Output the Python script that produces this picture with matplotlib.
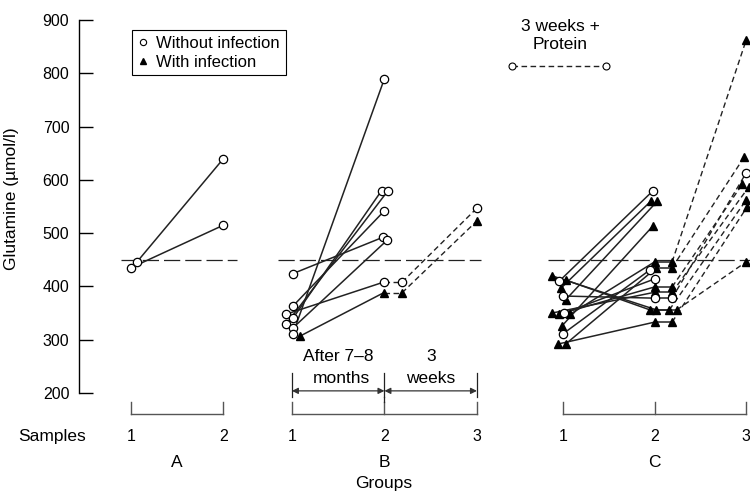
import matplotlib
matplotlib.use('Agg')
import matplotlib.pyplot as plt
import numpy as np
from matplotlib.lines import Line2D

plt.rcParams['font.family'] = ['Liberation Sans', 'DejaVu Sans']

nan = np.nan

# data (glutamine, umol/l); one entry per patient
# group A: samples 1 and 2
a_s1 = [435, 445]
a_s2 = [515, 640]
a_inf = [0, 0]

# group B: sample 1, sample 2 (7-8 months), repeat of 2, sample 3 (3 weeks + protein)
b_s1 = [424, 363, 348, 340, 330, 322, 311, 307]
b_s2 = [492, 542, 408, 580, 580, 487, 790, 388]
b_rep = [nan, nan, 408, nan, nan, nan, nan, 388]
b_s3 = [nan, nan, 547, nan, nan, nan, nan, 523]
b_inf = [0, 0, 0, 0, 0, 0, 0, 1]

# group C
c_s1 = [420, 412, 397, 375, 350, 348, 348, 326, 292, 292, 410, 382, 350, 311]
c_s2 = [356, 356, 560, 560, 389, 399, 446, 513, 333, 435, 579, 378, 414, 431]
c_rep = [356, 356, nan, nan, 389, 399, 446, nan, 333, 435, nan, 378, nan, nan]
c_s3 = [446, 562, nan, nan, 587, 592, 862, nan, 549, 643, nan, 613, nan, nan]
c_inf = [1, 1, 1, 1, 1, 1, 1, 1, 1, 1, 0, 0, 0, 0]

ref_level = 450

# x layout
a_pos = [0.0, 1.0]
b_pos = [1.74, 2.74, 3.74]
c_pos = [4.67, 5.66, 6.65]
rep_off = 0.19
# small horizontal offsets so overlapping symbols stay visible
a_dx1 = [0.0, 0.06]
b_dx1 = [0.01, 0.01, -0.06, 0.01, -0.06, 0.01, 0.01, 0.09]
b_dx2 = [-0.02, 0.0, -0.01, -0.03, 0.04, 0.03, 0.0, -0.01]
c_dx1 = [-0.12, 0.03, -0.02, 0.03, -0.12, -0.04, 0.08, -0.01, -0.05, 0.03, -0.04, 0.0, 0.01, 0.0]
c_dx2 = [0.02, -0.05, -0.04, 0.03, 0, 0, 0, -0.02, 0, 0.02, -0.02, 0, 0, -0.05]
c_dxr = [0.05, -0.03, 0, 0, 0, 0, 0, 0, 0, 0, 0, 0, 0, 0]
c_dx3 = [0, 0, 0, 0, 0.03, -0.04, 0, 0, 0.01, -0.02, 0, 0, 0, 0]

line_c = '#222222'

fig = plt.figure(figsize=(7.5, 4.95), dpi=100)
ax = fig.add_axes([79 / 750, 102 / 495, 671 / 750, 373 / 495])
ax.set_xlim(-0.562, 6.692)
ax.set_ylim(200, 900)


def marker(ax, x, y, inf):
    if np.isnan(y):
        return
    if inf:
        ax.plot(x, y, marker='^', ms=5.5, color='black', ls='none', zorder=5, clip_on=False)
    else:
        ax.plot(x, y, marker='o', ms=6, mfc='white', mec='black', mew=0.9, ls='none', zorder=6, clip_on=False)


def seg(ax, x0, y0, x1, y1, dashed=False):
    if np.isnan(y0) or np.isnan(y1):
        return
    if dashed:
        ax.plot([x0, x1], [y0, y1], color=line_c, lw=1.0, dashes=(4, 2.5), zorder=3, clip_on=False)
    else:
        ax.plot([x0, x1], [y0, y1], color=line_c, lw=1.1, zorder=3, clip_on=False)


# group A
for i in range(len(a_s1)):
    x1 = a_pos[0] + a_dx1[i]
    x2 = a_pos[1]
    seg(ax, x1, a_s1[i], x2, a_s2[i])
    marker(ax, x1, a_s1[i], a_inf[i])
    marker(ax, x2, a_s2[i], a_inf[i])

# group B
for i in range(len(b_s1)):
    x1 = b_pos[0] + b_dx1[i]
    x2 = b_pos[1] + b_dx2[i]
    xr = b_pos[1] + rep_off
    x3 = b_pos[2]
    seg(ax, x1, b_s1[i], x2, b_s2[i])
    seg(ax, x2, b_s2[i], xr, b_rep[i], dashed=True)
    seg(ax, xr, b_rep[i], x3, b_s3[i], dashed=True)
    for xx, yy in [(x1, b_s1[i]), (x2, b_s2[i]), (xr, b_rep[i]), (x3, b_s3[i])]:
        marker(ax, xx, yy, b_inf[i])

# group C
for i in range(len(c_s1)):
    x1 = c_pos[0] + c_dx1[i]
    x2 = c_pos[1] + c_dx2[i]
    xr = c_pos[1] + rep_off + c_dxr[i]
    x3 = c_pos[2] + c_dx3[i]
    seg(ax, x1, c_s1[i], x2, c_s2[i])
    seg(ax, x2, c_s2[i], xr, c_rep[i])
    seg(ax, xr, c_rep[i], x3, c_s3[i], dashed=True)
    for xx, yy in [(x1, c_s1[i]), (x2, c_s2[i]), (xr, c_rep[i]), (x3, c_s3[i])]:
        marker(ax, xx, yy, c_inf[i])

# reference level
for xa, xb in [(-0.11, 1.15), (1.59, 3.78), (4.51, 6.69)]:
    ax.plot([xa, xb], [ref_level, ref_level], color=line_c, lw=0.9, dashes=(13, 4), zorder=2, clip_on=False)

# axes styling
for s in ['top', 'right', 'bottom']:
    ax.spines[s].set_visible(False)
ax.spines['left'].set_linewidth(1.0)
ax.set_xticks([])
ax.set_yticks(range(200, 1000, 100))
ax.tick_params(axis='y', direction='in', length=10, width=1.0, pad=7, labelsize=11.5)
ax.set_ylabel('Glutamine (\u00b5mol/l)', fontsize=12.5)
ax.yaxis.set_label_coords(-0.1, 0.52)
ax.yaxis.label.set_va('center')

# legend
handles = [Line2D([], [], marker='o', ms=4.5, mfc='white', mec='black', mew=0.8, ls='none'),
           Line2D([], [], marker='^', ms=5, color='black', ls='none')]
leg = ax.legend(handles, ['Without infection', 'With infection'], loc='upper left',
                bbox_to_anchor=(0.079, 0.972), fancybox=False, framealpha=1, edgecolor='black',
                fontsize=12, handlelength=0.6, handletextpad=0.5, borderpad=0.35,
                labelspacing=0.2, borderaxespad=0)
leg.get_frame().set_linewidth(0.8)

# protein key
ax.plot([4.12, 5.135], [814, 814], color=line_c, lw=1.0, dashes=(4, 2.5), clip_on=False)
ax.plot([4.12, 5.135], [814, 814], marker='o', ms=5, mfc='white', mec='black', mew=0.8, ls='none', clip_on=False)
ax.text(4.64, 871, '3 weeks +\nProtein', ha='center', va='center', fontsize=12.5, linespacing=1.2)

# brackets under each group
br_top, br_bot = 184, 160
gray = '#555555'
for pos in [a_pos, b_pos, c_pos]:
    for p in pos:
        ax.plot([p, p], [br_top, br_bot], color=gray, lw=1.0, clip_on=False)
    ax.plot([pos[0], pos[-1]], [br_bot, br_bot], color=gray, lw=1.0, clip_on=False)

# time spans in group B
for p in b_pos:
    ax.plot([p, p], [237, 193], color=line_c, lw=0.9, clip_on=False)
ax.plot([b_pos[1], b_pos[1]], [193, br_top], color=line_c, lw=0.9, clip_on=False)
for xa, xb in [(b_pos[0], b_pos[1]), (b_pos[1], b_pos[2])]:
    ax.annotate('', xy=(xb, 204), xytext=(xa, 204), annotation_clip=False,
                arrowprops=dict(arrowstyle='<|-|>', color='#333333', lw=0.9, mutation_scale=9,
                                shrinkA=0, shrinkB=0))
ax.text((b_pos[0] + b_pos[1]) / 2, 268, 'After 7\u20138', ha='center', va='center', fontsize=12.5)
ax.text((b_pos[0] + b_pos[1]) / 2 + 0.03, 228, 'months', ha='center', va='center', fontsize=12.5)
ax.text((b_pos[1] + b_pos[2]) / 2, 268, '3', ha='center', va='center', fontsize=12.5)
ax.text((b_pos[1] + b_pos[2]) / 2, 228, 'weeks', ha='center', va='center', fontsize=12.5)

# sample / group labels
ax.text(-0.854, 118, 'Samples', ha='center', va='center', fontsize=12.5)
for pos in [a_pos, b_pos, c_pos]:
    for k, p in enumerate(pos):
        ax.text(p, 118, str(k + 1), ha='center', va='center', fontsize=11.5)
for name, pos in [('A', a_pos), ('B', b_pos), ('C', c_pos)]:
    ax.text(pos[len(pos) // 2] if len(pos) == 3 else np.mean(pos), 69, name,
            ha='center', va='center', fontsize=12.5)
ax.text(2.73, 31, 'Groups', ha='center', va='center', fontsize=12.5)

fig.savefig('out.png', dpi=100)
